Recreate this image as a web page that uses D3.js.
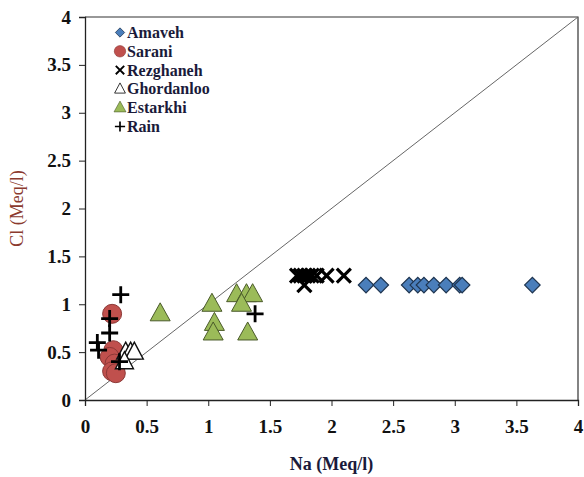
<!DOCTYPE html>
<html>
<head>
<meta charset="utf-8">
<script src="https://cdn.jsdelivr.net/npm/d3@7"></script>
<style>
  body { margin: 0; background: #fff; }
</style>
</head>
<body>
<div id="chart"></div>
<script>
// Na vs Cl (Meq/l) per station
var amavehNa = [2.28, 2.4, 2.63, 2.7, 2.75, 2.83, 2.93, 3.04, 3.06, 3.63],
    amavehCl = [1.2, 1.2, 1.2, 1.2, 1.2, 1.2, 1.2, 1.2, 1.2, 1.2];
var saraniNa = [0.22, 0.23, 0.2, 0.24, 0.22, 0.25],
    saraniCl = [0.9, 0.52, 0.45, 0.38, 0.3, 0.28];
var rezghanehNa = [1.72, 1.75, 1.78, 1.81, 1.84, 1.88, 1.96, 2.1, 1.78],
    rezghanehCl = [1.3, 1.3, 1.3, 1.3, 1.3, 1.3, 1.3, 1.3, 1.2];
var ghordanlooNa = [0.33, 0.37, 0.4, 0.32],
    ghordanlooCl = [0.5, 0.5, 0.5, 0.4];
var estarkhiNa = [0.61, 1.03, 1.23, 1.31, 1.36, 1.27, 1.05, 1.04, 1.32],
    estarkhiCl = [0.9, 1.0, 1.1, 1.1, 1.1, 1.0, 0.8, 0.7, 0.7];
var rainNa = [0.29, 0.2, 0.2, 0.1, 0.11, 0.28, 1.38],
    rainCl = [1.1, 0.85, 0.7, 0.6, 0.52, 0.4, 0.9];
var ticks = [0, 0.5, 1, 1.5, 2, 2.5, 3, 3.5, 4];

var series = [
  {name: "Amaveh", na: amavehNa, cl: amavehCl, shape: "diamond"},
  {name: "Sarani", na: saraniNa, cl: saraniCl, shape: "circle"},
  {name: "Rezghaneh", na: rezghanehNa, cl: rezghanehCl, shape: "cross"},
  {name: "Ghordanloo", na: ghordanlooNa, cl: ghordanlooCl, shape: "open"},
  {name: "Estarkhi", na: estarkhiNa, cl: estarkhiCl, shape: "triangle"},
  {name: "Rain", na: rainNa, cl: rainCl, shape: "plus"}
];

var margin = {top: 17, right: 6, bottom: 77, left: 85},
    width = 584 - margin.left - margin.right,
    height = 477 - margin.top - margin.bottom;

var x = d3.scaleLinear().domain([0, 4]).range([0, width]);
var y = d3.scaleLinear().domain([0, 4]).range([height, 0]);

var svg = d3.select("#chart").append("svg")
    .attr("width", 584)
    .attr("height", 477)
  .append("g")
    .attr("transform", "translate(" + margin.left + "," + margin.top + ")");

// frame
svg.append("path")
    .attr("d", "M0,0H" + width + "V" + height)
    .attr("fill", "none")
    .attr("stroke", "#333")
    .attr("stroke-width", 1.2);

// 1:1 line
svg.append("line")
    .attr("x1", x(0)).attr("y1", y(0))
    .attr("x2", x(4)).attr("y2", y(4))
    .attr("stroke", "#666")
    .attr("stroke-width", 1);

var xAxis = svg.append("g")
    .attr("transform", "translate(0," + height + ")")
    .call(d3.axisBottom(x).tickValues(ticks).tickSize(6).tickPadding(14).tickFormat(d3.format("")));
var yAxis = svg.append("g")
    .call(d3.axisLeft(y).tickValues(ticks).tickSize(6).tickPadding(8).tickFormat(d3.format("")));

[xAxis, yAxis].forEach(function(a) {
  a.attr("font-family", "Liberation Serif").attr("font-size", 19);
  a.select(".domain").attr("stroke", "#222").attr("stroke-width", 1.3);
  a.selectAll(".tick line").attr("stroke", "#222");
  a.selectAll("text")
      .attr("fill", "#111")
      .attr("font-weight", "bold");
});

function drawMark(g, shape) {
  if (shape == "diamond") {
    g.append("path").attr("d", d3.symbol(d3.symbolSquare, 120)())
        .attr("transform", "rotate(45)")
        .attr("fill", "#4a7ebb").attr("stroke", "#1f3550").attr("stroke-width", 1.2);
  } else if (shape == "circle") {
    g.append("circle").attr("r", 9.5)
        .attr("fill", "#c0504d").attr("stroke", "#8c3836").attr("stroke-width", 1);
  } else if (shape == "triangle") {
    g.append("path").attr("d", "M0,-11L10,7H-10Z")
        .attr("fill", "#9bbb59").attr("stroke", "#4a5a2a").attr("stroke-width", 1);
  } else if (shape == "open") {
    g.append("path").attr("d", "M0,-10L9,7H-9Z")
        .attr("fill", "#fff").attr("stroke", "#111").attr("stroke-width", 1.4);
  } else if (shape == "cross") {
    g.append("path").attr("d", "M-7,-7L7,7M-7,7L7,-7")
        .attr("stroke", "#000").attr("stroke-width", 3.2);
  } else if (shape == "plus") {
    g.append("path").attr("d", "M-8.5,0H8.5M0,-8.5V8.5")
        .attr("stroke", "#000").attr("stroke-width", 2.8);
  }
}

series.forEach(function(s) {
  var pts = s.na.map(function(d, i) { return [d, s.cl[i]]; });
  svg.append("g").selectAll("g")
      .data(pts)
    .enter().append("g")
      .attr("transform", function(d) { return "translate(" + x(d[0]) + "," + y(d[1]) + ")"; })
      .each(function() { drawMark(d3.select(this), s.shape); });
});

// legend
var legend = svg.append("g").attr("transform", "translate(35,15.5)");
series.forEach(function(s, i) {
  var row = legend.append("g").attr("transform", "translate(0," + (i * 18.8) + ")");
  var m = row.append("g").attr("transform", "scale(0.6)");
  drawMark(m, s.shape);
  row.append("text")
      .attr("x", 7)
      .attr("y", 5.5)
      .attr("fill", "#1a1a3a")
      .attr("font-family", "Liberation Serif")
      .attr("font-size", 16)
      .attr("font-weight", 600)
      .text(s.name);
});

// axis titles
svg.append("text")
    .attr("x", width / 2)
    .attr("y", height + 70)
    .attr("text-anchor", "middle")
    .attr("fill", "#1a1a3a")
    .attr("font-family", "Liberation Serif")
    .attr("font-size", 18)
    .attr("font-weight", "bold")
    .text("Na  (Meq/l)");

svg.append("text")
    .attr("transform", "translate(-62," + (height / 2) + ") rotate(-90)")
    .attr("text-anchor", "middle")
    .attr("fill", "#8b3a2e")
    .attr("font-family", "Liberation Serif")
    .attr("font-size", 18)
    .text("Cl (Meq/l)");
</script>
</body>
</html>
